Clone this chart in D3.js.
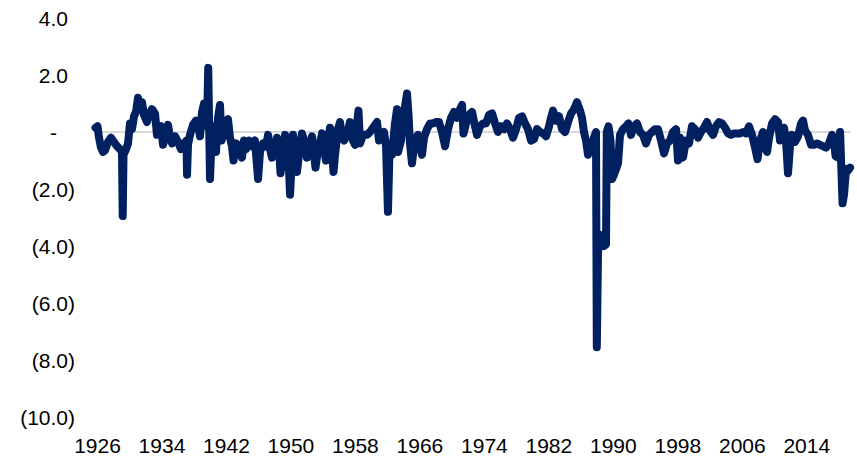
<!DOCTYPE html>
<html>
<head>
<meta charset="utf-8">
<script src="https://cdn.jsdelivr.net/npm/d3@7"></script>
<style>
  html, body { margin: 0; padding: 0; background: #ffffff; }
  svg { display: block; }
  .tick text { font-family: "Liberation Sans", Arial, sans-serif; font-size: 21px; fill: #000; }
</style>
</head>
<body>
<svg id="chart" width="857" height="459"></svg>
<script>
// Decimal year of each observation
const years = [
  1925.81, 1926.06, 1926.25, 1926.50, 1926.74, 1926.99, 1927.36, 1927.74, 1928.11, 1928.48,
  1928.85, 1929.10, 1929.19, 1929.29, 1929.60, 1929.85, 1930.09, 1930.34, 1930.59, 1930.84,
  1931.09, 1931.34, 1931.58, 1931.83, 1932.20, 1932.45, 1932.82, 1933.20, 1933.44, 1933.69,
  1933.94, 1934.19, 1934.44, 1934.81, 1935.06, 1935.31, 1935.68, 1936.05, 1936.42, 1936.79,
  1937.10, 1937.17, 1937.29, 1937.54, 1937.91, 1938.28, 1938.53, 1938.78, 1939.03, 1939.28,
  1939.65, 1939.80, 1939.90, 1940.02, 1940.27, 1940.52, 1940.76, 1941.01, 1941.26, 1941.45,
  1941.63, 1942.01, 1942.25, 1942.50, 1942.75, 1942.94, 1943.25, 1943.62, 1943.99, 1944.24,
  1944.49, 1944.86, 1945.23, 1945.60, 1945.98, 1946.22, 1946.60, 1946.97, 1947.22, 1947.46,
  1947.71, 1948.08, 1948.33, 1948.58, 1948.77, 1948.95, 1949.33, 1949.57, 1949.82, 1949.95,
  1950.13, 1950.32, 1950.57, 1950.81, 1951.06, 1951.43, 1951.81, 1952.05, 1952.43, 1952.68,
  1952.92, 1953.11, 1953.42, 1953.67, 1953.92, 1954.16, 1954.41, 1954.66, 1954.91, 1955.16,
  1955.34, 1955.53, 1955.90, 1956.15, 1956.40, 1956.65, 1957.02, 1957.39, 1957.76, 1958.01,
  1958.26, 1958.44, 1958.63, 1959.00, 1959.50, 1959.87, 1960.37, 1960.74, 1960.99, 1961.24,
  1961.61, 1961.86, 1962.10, 1962.29, 1962.60, 1962.97, 1963.22, 1963.35, 1963.72, 1963.97,
  1964.28, 1964.46, 1964.65, 1964.83, 1965.08, 1965.33, 1965.58, 1965.83, 1966.07, 1966.32,
  1966.57, 1966.94, 1967.32, 1967.69, 1968.06, 1968.43, 1968.80, 1969.18, 1969.55, 1969.92,
  1970.29, 1970.67, 1971.04, 1971.29, 1971.47, 1971.78, 1972.15, 1972.53, 1972.90, 1973.15,
  1973.52, 1973.89, 1974.26, 1974.64, 1975.01, 1975.38, 1975.75, 1976.12, 1976.50, 1976.87,
  1977.24, 1977.61, 1977.99, 1978.36, 1978.73, 1979.10, 1979.47, 1979.85, 1980.22, 1980.59,
  1980.96, 1981.34, 1981.71, 1982.08, 1982.33, 1982.58, 1982.95, 1983.32, 1983.70, 1984.07,
  1984.44, 1984.81, 1985.18, 1985.55, 1985.93, 1986.17, 1986.42, 1986.67, 1986.92, 1987.17,
  1987.41, 1987.66, 1987.91, 1988.01, 1988.16, 1988.41, 1988.66, 1988.90, 1989.15, 1989.25,
  1989.46, 1989.71, 1989.90, 1990.14, 1990.39, 1990.64, 1990.89, 1991.26, 1991.63, 1991.94,
  1992.25, 1992.63, 1993.00, 1993.37, 1993.74, 1994.11, 1994.49, 1994.86, 1995.23, 1995.60,
  1995.98, 1996.35, 1996.72, 1997.09, 1997.46, 1997.84, 1998.08, 1998.33, 1998.70, 1999.08,
  1999.45, 1999.82, 2000.19, 2000.57, 2000.94, 2001.31, 2001.68, 2002.05, 2002.43, 2002.80,
  2003.17, 2003.54, 2003.92, 2004.29, 2004.66, 2005.03, 2005.40, 2005.78, 2006.15, 2006.52,
  2006.89, 2007.27, 2007.64, 2007.95, 2008.26, 2008.63, 2008.88, 2009.13, 2009.38, 2009.75,
  2010.12, 2010.49, 2010.74, 2010.99, 2011.24, 2011.48, 2011.73, 2011.98, 2012.23, 2012.60,
  2012.97, 2013.35, 2013.59, 2013.84, 2014.21, 2014.59, 2014.96, 2015.33, 2015.70, 2016.07,
  2016.45, 2016.82, 2017.19, 2017.44, 2017.63, 2017.94, 2018.19, 2018.50, 2018.68, 2018.93,
  2019.18, 2019.43
];

// Series value at each observation
const values = [
   0.15,  0.20, -0.20, -0.55, -0.70, -0.65, -0.35, -0.20, -0.35, -0.50,
  -0.60, -0.70, -2.95, -0.80, -0.60, -0.40,  0.30,  0.10,  0.55,  0.70,
   1.20,  0.90,  1.05,  0.60,  0.35,  0.60,  0.80,  0.65, -0.10,  0.15,
   0.20, -0.45, -0.20,  0.25, -0.20, -0.40, -0.15, -0.35, -0.60, -0.40,
  -0.30, -1.50, -0.45, -0.10,  0.25,  0.40,  0.30, -0.15,  0.70,  1.00,
   0.20,  2.25,  0.50, -1.65,  0.20, -0.40, -0.70,  0.50,  0.95, -0.30,
  -0.10,  0.30,  0.45, -0.20, -0.50, -1.00, -0.40, -0.50, -0.90, -0.30,
  -0.60, -0.30, -0.50, -0.30, -1.65, -0.70, -0.40, -0.50, -0.10, -0.60,
  -0.90, -0.50, -0.20, -0.60, -1.45, -1.00, -0.10, -0.60, -1.30, -2.20,
  -1.20, -0.10, -0.70, -1.40, -0.80, -0.05, -0.40, -0.90, -0.40, -0.15,
  -0.80, -1.25, -0.60, -0.40, -0.05, -0.60, -1.00, -0.30,  0.15, -0.60,
  -1.40, -0.80,  0.10,  0.35, -0.20, -0.30, -0.10,  0.35, -0.30, -0.45,
   0.30,  0.75, -0.40, -0.10, -0.10,  0.00,  0.20,  0.35, -0.30, -0.15,
   0.00, -0.50, -2.80, -0.60, -0.80,  0.30,  0.80, -0.70, -0.30,  0.50,
   1.00,  1.35,  0.60, -0.40, -1.10, -0.50, -0.20, -0.10, -0.50, -0.80,
  -0.20,  0.10,  0.30,  0.30,  0.35,  0.35,  0.00, -0.50,  0.10,  0.50,
   0.70,  0.50,  0.80,  0.95, -0.05,  0.30,  0.60,  0.70,  0.20, -0.10,
   0.20,  0.30,  0.30,  0.60,  0.65,  0.30,  0.00,  0.20,  0.10,  0.30,
   0.10, -0.20,  0.10,  0.50,  0.55,  0.30,  0.10, -0.30, -0.25,  0.10,
   0.00, -0.05, -0.15,  0.20,  0.50,  0.75,  0.40,  0.55,  0.10,  0.00,
   0.35,  0.65,  0.80,  1.05,  0.75,  0.50,  0.00, -0.30, -0.80, -0.50,
  -0.60, -0.20,  0.00, -7.55, -4.20, -3.60, -3.90, -4.00, -3.95,  0.00,
   0.20, -0.30, -1.65, -1.50, -1.30, -1.10, -0.10,  0.10,  0.20,  0.30,
  -0.10,  0.20,  0.30,  0.00, -0.10, -0.40, -0.10,  0.00,  0.10,  0.10,
  -0.30, -0.75, -0.40, -0.30,  0.00,  0.10, -1.00, -0.20, -0.90, -0.30,
  -0.40,  0.20,  0.10, -0.20,  0.00,  0.15,  0.35,  0.05, -0.10,  0.20,
   0.35,  0.30,  0.15, -0.05, -0.10, -0.05, -0.05, -0.05,  0.00, -0.05,
   0.20, -0.10, -0.55, -0.95, -0.30,  0.00, -0.50, -0.70, -0.20,  0.30,
   0.45,  0.35, -0.30, -0.15,  0.15, -0.30, -1.45, -0.50, -0.10, -0.35,
  -0.15,  0.30,  0.40,  0.05, -0.10, -0.45, -0.45, -0.40, -0.45, -0.50,
  -0.55, -0.40, -0.10, -0.30, -0.85, -0.90,  0.00, -2.50, -2.20, -1.30,
  -1.35, -1.25
];

// Axis tick values
const yTicks = [4, 2, 0, -2, -4, -6, -8, -10];
const xTicks = [1926, 1934, 1942, 1950, 1958, 1966, 1974, 1982, 1990, 1998, 2006, 2014];

const svg = d3.select("#chart");

const x = d3.scaleLinear().domain([1926, 2014]).range([97, 806.3]);
const y = d3.scaleLinear().domain([-10, 4]).range([417, 18]);

// Accounting-style labels: zero as a dash, negatives in parentheses
const fmt = d3.format(".1f");
const yLabel = v => v === 0 ? "-" : (v < 0 ? "(" + fmt(-v) + ")" : fmt(v));

// Zero reference line
svg.append("line")
  .attr("x1", x(1925.8)).attr("x2", x(2019.5))
  .attr("y1", y(0)).attr("y2", y(0))
  .attr("stroke", "#d9d9d9")
  .attr("stroke-width", 2);

// Y axis
const yAxis = svg.append("g")
  .attr("transform", "translate(75,0)")
  .call(d3.axisLeft(y).tickValues(yTicks).tickFormat(yLabel).tickSize(0).tickPadding(0));
yAxis.select(".domain").remove();
yAxis.selectAll(".tick text")
  .attr("font-family", null).attr("font-size", null)
  .attr("dy", "0.35em")
  .attr("x", d => d > 0 ? -7 : (d === 0 ? -18 : 0));

// X axis
const xAxis = svg.append("g")
  .attr("transform", "translate(0,438)")
  .call(d3.axisBottom(x).tickValues(xTicks).tickFormat(d3.format("d")).tickSize(0).tickPadding(0));
xAxis.select(".domain").remove();
xAxis.selectAll(".tick text")
  .attr("font-family", null).attr("font-size", null)
  .attr("y", 0)
  .attr("dy", "0.71em");

// Series line
const series = years.map((yr, i) => ({ year: yr, value: values[i] }));
const line = d3.line().x(d => x(d.year)).y(d => y(d.value));

svg.append("path")
  .datum(series)
  .attr("d", line)
  .attr("fill", "none")
  .attr("stroke", "#002060")
  .attr("stroke-width", 8)
  .attr("stroke-linejoin", "round")
  .attr("stroke-linecap", "round");
</script>
</body>
</html>
